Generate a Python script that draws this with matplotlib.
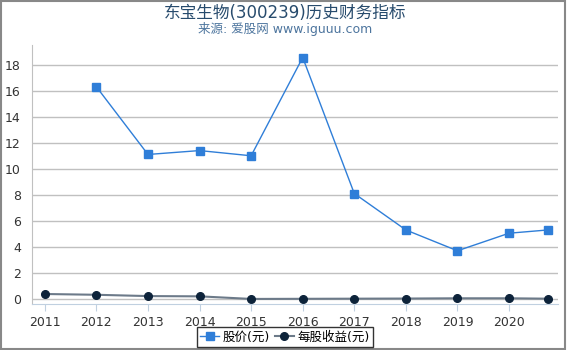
import matplotlib
matplotlib.use("Agg")
import matplotlib.pyplot as plt
from matplotlib.patches import Rectangle

plt.rcParams["font.family"] = ["DejaVu Sans", "Noto Sans CJK SC"]

# =========================================================
# DATA
# =========================================================

price_x = [2012, 2013, 2014, 2015, 2016, 2017, 2018, 2019, 2020, 2020.75]
price = [16.3, 11.1, 11.4, 11.0, 18.55, 8.1, 5.3, 3.7, 5.05, 5.3]

eps_x = [2011, 2012, 2013, 2014, 2015, 2016, 2017, 2018, 2019, 2020, 2020.75]
eps = [0.38, 0.32, 0.22, 0.20, 0.0, 0.01, 0.02, 0.03, 0.05, 0.05, 0.02]

year_ticks = list(range(2011, 2021))
y_ticks = [0, 2, 4, 6, 8, 10, 12, 14, 16, 18]

COLOR_PRICE = "#2f7ed8"
COLOR_EPS = "#0d233a"

# =========================================================
# PLOT
# =========================================================

fig = plt.figure(figsize=(5.7, 3.5), dpi=100)
ax = fig.add_axes([0.056, 0.131, 0.923, 0.74])

ax.plot(
    price_x, price,
    color=COLOR_PRICE,
    linewidth=1,
    marker="s",
    markersize=5.5,
    label="股价(元)"
)
ax.plot(
    eps_x, eps,
    color="#6c7a89",
    linewidth=1.5,
    marker="o",
    markersize=5.5,
    markerfacecolor=COLOR_EPS,
    markeredgecolor=COLOR_EPS,
    label="每股收益(元)"
)

ax.set_xlim(2010.75, 2020.95)
ax.set_ylim(-0.4, 19.5)
ax.set_xticks(year_ticks)
ax.set_xticklabels([str(y) for y in year_ticks])
ax.set_yticks(y_ticks)

ax.grid(axis="y", color="#c0c0c0", linewidth=1)
ax.set_axisbelow(True)

for side in ["top", "right"]:
    ax.spines[side].set_visible(False)
ax.spines["left"].set_color("#c0c0c0")
ax.spines["bottom"].set_color("#c0d0e0")

ax.tick_params(axis="y", length=0, labelsize=9, colors="#333333", pad=8)
ax.tick_params(axis="x", length=5, color="#c0d0e0", labelsize=9,
               colors="#333333")

fig.text(0.5, 0.963, "东宝生物(300239)历史财务指标",
         ha="center", va="center", fontsize=12, color="#274b6d")
fig.text(0.5, 0.917, "来源: 爱股网 www.iguuu.com",
         ha="center", va="center", fontsize=9, color="#4d759e")

leg = fig.legend(
    loc="center",
    bbox_to_anchor=(0.5, 0.037),
    bbox_transform=fig.transFigure,
    ncol=2,
    frameon=True,
    fancybox=False,
    fontsize=9,
    handlelength=1.5,
    handletextpad=0.3,
    columnspacing=0.4,
    borderpad=0.25
)
leg.get_frame().set_edgecolor("black")
leg.get_frame().set_linewidth(1)

fig.patches.append(Rectangle(
    (0.001, 0.002), 0.99, 0.996,
    transform=fig.transFigure,
    fill=False, edgecolor="#888888", linewidth=1.5
))

plt.savefig("out.png", dpi=100)
